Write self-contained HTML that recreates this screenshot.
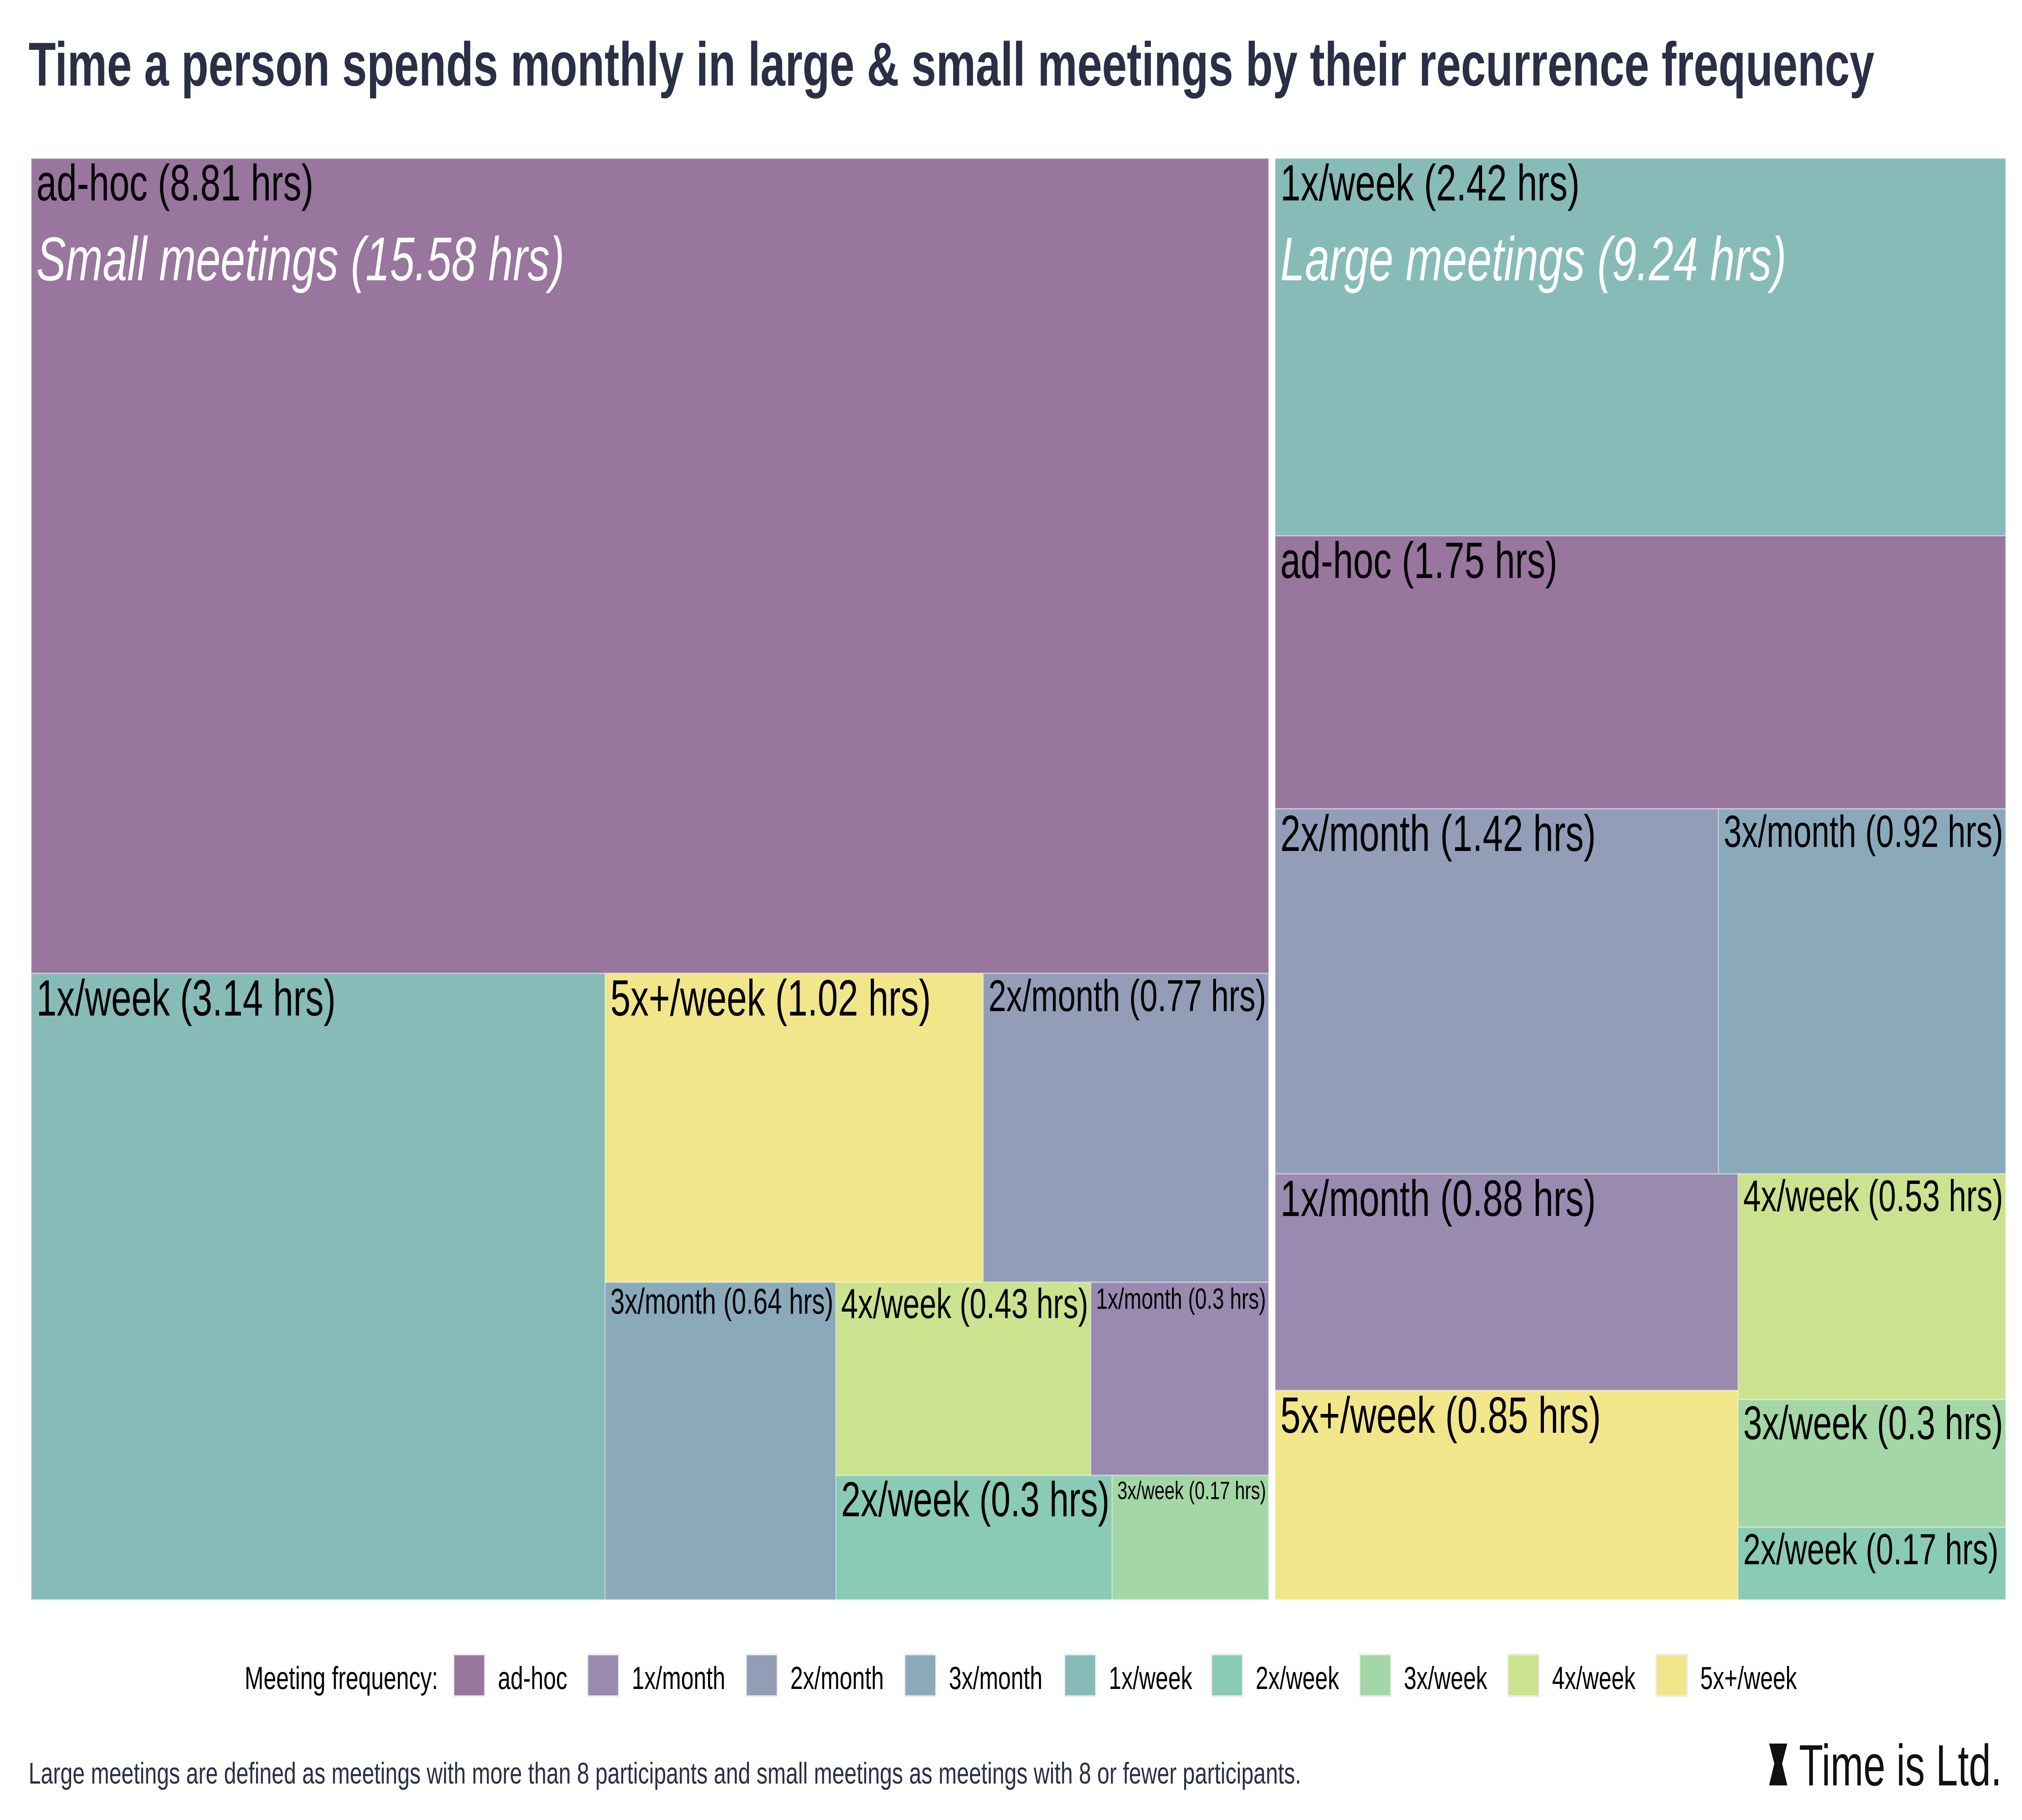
<!DOCTYPE html>
<html><head><meta charset="utf-8">
<style>
html,body{margin:0;padding:0;background:#fff;width:100vw;height:100vh;overflow:hidden;}
svg{display:block;width:100vw;height:100vh;font-family:"Liberation Sans",Arial,sans-serif;}
</style></head>
<body>
<svg id="chart" viewBox="0 0 1555.56 1000" preserveAspectRatio="none" xmlns="http://www.w3.org/2000/svg">
<text x="22" y="47" font-size="34" font-weight="bold" fill="#2a2f45" textLength="1420" lengthAdjust="spacingAndGlyphs">Time a person spends monthly in large &amp; small meetings by their recurrence frequency</text>
<g id="cells"></g>
<g id="legend"></g>
<text x="22" y="980" font-size="16.5" fill="#2a2f45" textLength="979" lengthAdjust="spacingAndGlyphs">Large meetings are defined as meetings with more than 8 participants and small meetings as meetings with 8 or fewer participants.</text>
<g>
<path d="M1361,958 L1375,958 L1371,969 L1375,981 L1361,981 L1365,969 Z" fill="#111"/>
<text x="1384" y="981" font-size="32" fill="#111" textLength="156" lengthAdjust="spacingAndGlyphs">Time is Ltd.</text>
</g>
</svg>
<script>
// ---- data ----
const categories = ["ad-hoc","1x/month","2x/month","3x/month","1x/week","2x/week","3x/week","4x/week","5x+/week"];
const smallValues = {"ad-hoc":8.81,"1x/week":3.14,"5x+/week":1.02,"2x/month":0.77,"3x/month":0.64,"4x/week":0.43,"1x/month":0.3,"2x/week":0.3,"3x/week":0.17};
const largeValues = {"1x/week":2.42,"ad-hoc":1.75,"2x/month":1.42,"3x/month":0.92,"1x/month":0.88,"5x+/week":0.85,"4x/week":0.53,"3x/week":0.3,"2x/week":0.17};
const groupNames = ["Small meetings","Large meetings"];
const groupTotals = [15.58, 9.24];
const colors = {"ad-hoc":"#98769e","1x/month":"#998bb0","2x/month":"#939db8","3x/month":"#8aaabb","1x/week":"#86bbb8","2x/week":"#8acbb5","3x/week":"#a3d7a5","4x/week":"#cbe28e","5x+/week":"#f2e68b"};

// slicing layout trees (structure only; sizes come from values)
const smallTree = {d:"v",c:["ad-hoc",{d:"h",c:["1x/week",{d:"v",c:[{d:"h",c:["5x+/week","2x/month"]},{d:"h",c:["3x/month",{d:"v",c:[{d:"h",c:["4x/week","1x/month"]},{d:"h",c:["2x/week","3x/week"]}]}]}]}]}]};
const largeTree = {d:"v",c:["1x/week","ad-hoc",{d:"h",c:["2x/month","3x/month"]},{d:"h",c:[{d:"v",c:["1x/month","5x+/week"]},{d:"v",c:["4x/week","3x/week","2x/week"]}]}]};

const NS="http://www.w3.org/2000/svg";
const cellsG=document.getElementById('cells');
function sumNode(n,vals){return typeof n==="string"?vals[n]:n.c.reduce((a,k)=>a+sumNode(k,vals),0);}
function layout(n,vals,x,y,w,h,out){
  if(typeof n==="string"){out.push({k:n,v:vals[n],x,y,w,h});return;}
  const tot=sumNode(n,vals);let off=0;
  n.c.forEach(k=>{const f=sumNode(k,vals)/tot;
    if(n.d==="v"){layout(k,vals,x,y+off*h,w,f*h,out);}else{layout(k,vals,x+off*w,y,f*w,h,out);}
    off+=f;});
}
function drawGroup(tree,vals,x,y,w,h,gi){
  const out=[];layout(tree,vals,x,y,w,h,out);
  out.forEach(c=>{
    const r=document.createElementNS(NS,'rect');
    
    
    r.setAttribute('x',c.x);r.setAttribute('y',c.y);r.setAttribute('width',c.w);r.setAttribute('height',c.h);
    r.setAttribute('fill',colors[c.k]);r.setAttribute('stroke','rgba(255,255,255,0.35)');r.setAttribute('stroke-width','0.8');
    cellsG.appendChild(r);
    const t=document.createElementNS(NS,'text');
    
    
    t.textContent=c.k+' ('+c.v+' hrs)';
    t.setAttribute('font-size','28');t.setAttribute('fill','#000');
    t.setAttribute('x',c.x+4);t.setAttribute('y',c.y+26);
    cellsG.appendChild(t);
    let len=t.getComputedTextLength();let fs=28;
    if(len>c.w-6){fs=28*(c.w-6)/len;}
    fs=Math.min(fs,c.h*0.6);
    t.setAttribute('font-size',fs.toFixed(2));
    t.setAttribute('y',c.y+3+fs*0.72);
  });
  const g=document.createElementNS(NS,'text');
  
  
  g.textContent=groupNames[gi]+' ('+groupTotals[gi]+' hrs)';
  g.setAttribute('x',x+4);g.setAttribute('y',y+67);g.setAttribute('font-size','34');
  g.setAttribute('font-style','italic');g.setAttribute('fill','#fff');
  cellsG.appendChild(g);
}
drawGroup(smallTree,smallValues,24,87,952,792,0);
drawGroup(largeTree,largeValues,981,87,562,792,1);

// legend
const legendX=[349,452,574,696,819,932,1046,1160,1274];
const lg=document.getElementById('legend');
const lt=document.createElementNS(NS,'text');


lt.textContent='Meeting frequency:';lt.setAttribute('x',337);lt.setAttribute('text-anchor','end');lt.setAttribute('y',928);lt.setAttribute('font-size','17.5');lt.setAttribute('fill','#000');
lg.appendChild(lt);
categories.forEach((cat,i)=>{
  const lx=legendX[i];
  const s=document.createElementNS(NS,'rect');
  
  
  s.setAttribute('x',lx);s.setAttribute('y',909);s.setAttribute('width',24);s.setAttribute('height',23);
  s.setAttribute('fill',colors[cat]);s.setAttribute('stroke','#eee');s.setAttribute('stroke-width','1');
  lg.appendChild(s);
  const t=document.createElementNS(NS,'text');
  
  
  t.textContent=cat;t.setAttribute('x',lx+34);t.setAttribute('y',928);t.setAttribute('font-size','17.5');t.setAttribute('fill','#000');
  lg.appendChild(t);
});
</script>
</body></html>
